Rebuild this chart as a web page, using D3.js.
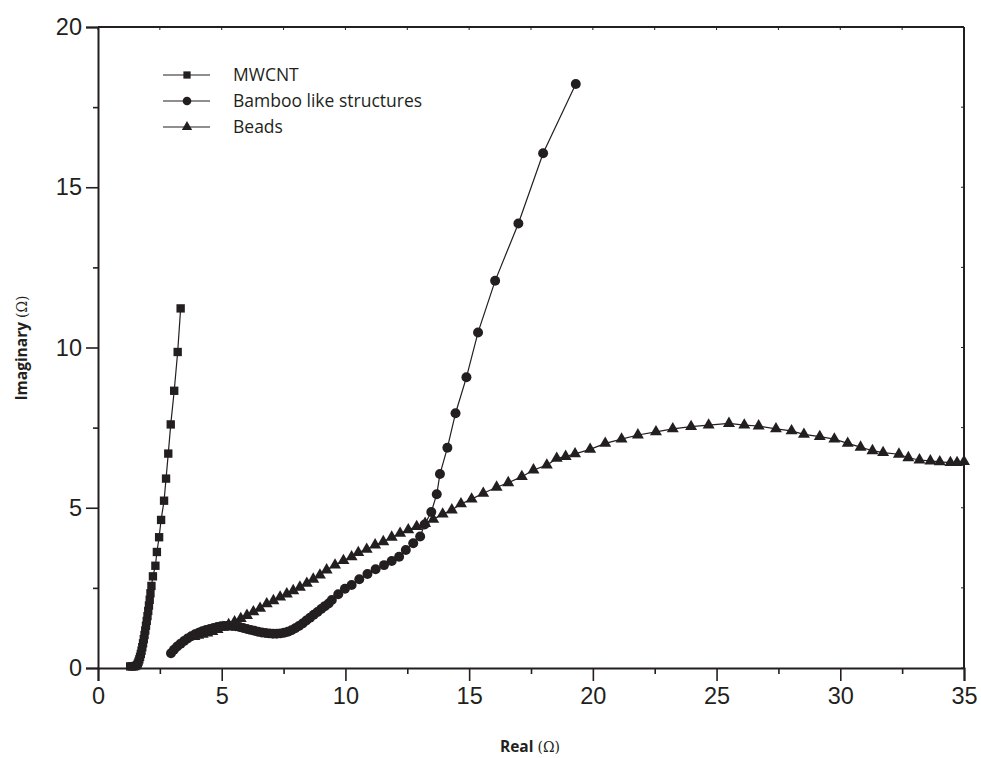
<!DOCTYPE html>
<html><head><meta charset="utf-8">
<script src="https://cdn.jsdelivr.net/npm/d3@7"></script>
<style>html,body{margin:0;padding:0;background:#fff;}svg{display:block;}</style>
</head><body>
<svg id="chart" width="981" height="758"></svg>
<script>
const xTicks = [0,5,10,15,20,25,30,35];
const yTicks = [0,5,10,15,20];
const seriesNames = ["MWCNT","Bamboo like structures","Beads"];

const mwcntX = [1.30,1.37,1.44,1.51,1.57,1.61,1.64,1.67,1.70,1.73,1.76,1.79,1.82,1.85,1.88,1.91,1.94,1.97,2.00,2.03,2.06,2.09,2.12,2.16,2.22,2.32,2.38,2.47,2.55,2.67,2.75,2.84,2.94,3.08,3.22,3.34];
const mwcntY = [0.05,0.05,0.05,0.06,0.09,0.14,0.20,0.27,0.35,0.44,0.54,0.65,0.77,0.90,1.03,1.17,1.32,1.47,1.62,1.78,1.95,2.13,2.33,2.56,2.86,3.19,3.62,4.08,4.62,5.22,5.91,6.69,7.60,8.65,9.86,11.22];

const bambooX = [2.95,3.07,3.20,3.34,3.48,3.62,3.77,3.92,4.07,4.22,4.37,4.52,4.67,4.82,4.97,5.12,5.27,5.42,5.57,5.72,5.87,6.02,6.17,6.32,6.47,6.62,6.77,6.92,7.07,7.22,7.37,7.52,7.67,7.82,7.97,8.12,8.27,8.42,8.57,8.72,8.87,9.02,9.17,9.32,9.45,9.71,9.98,10.25,10.56,10.89,11.22,11.56,11.87,12.17,12.44,12.74,13.02,13.20,13.47,13.69,13.82,14.12,14.45,14.89,15.36,16.05,16.99,17.99,19.31];
const bambooY = [0.46,0.57,0.67,0.76,0.84,0.92,0.99,1.05,1.10,1.15,1.19,1.22,1.25,1.28,1.30,1.31,1.32,1.31,1.30,1.28,1.25,1.22,1.19,1.16,1.13,1.11,1.09,1.08,1.07,1.07,1.08,1.10,1.13,1.18,1.24,1.31,1.39,1.48,1.57,1.66,1.75,1.84,1.93,2.01,2.12,2.30,2.47,2.59,2.77,2.93,3.08,3.21,3.34,3.47,3.68,3.89,4.10,4.48,4.87,5.42,6.05,6.87,7.95,9.07,10.47,12.08,13.87,16.06,18.22];

const beadsX = [3.90,4.05,4.23,4.42,4.62,4.83,5.05,5.28,5.52,5.77,6.02,6.28,6.55,6.82,7.09,7.36,7.63,7.89,8.16,8.44,8.70,8.97,9.24,9.58,9.92,10.25,10.52,10.86,11.20,11.53,11.87,12.21,12.54,12.88,13.22,13.55,13.93,14.30,14.67,15.10,15.57,16.11,16.58,17.13,17.60,18.14,18.54,18.90,19.28,19.89,20.50,21.16,21.82,22.55,23.23,23.97,24.68,25.50,26.12,26.70,27.40,28.03,28.53,29.17,29.76,30.30,30.82,31.30,31.73,32.37,32.75,33.20,33.64,34.02,34.45,34.72,35.00];
const beadsY = [0.98,1.02,1.05,1.09,1.14,1.20,1.27,1.35,1.44,1.54,1.64,1.75,1.86,2.00,2.10,2.21,2.31,2.41,2.52,2.64,2.77,2.90,3.06,3.21,3.35,3.47,3.60,3.70,3.84,3.94,4.08,4.20,4.31,4.41,4.51,4.64,4.80,4.93,5.12,5.27,5.45,5.64,5.78,5.97,6.18,6.33,6.54,6.60,6.68,6.82,7.01,7.14,7.27,7.37,7.46,7.53,7.58,7.63,7.58,7.55,7.46,7.40,7.29,7.22,7.14,7.01,6.89,6.78,6.72,6.67,6.56,6.49,6.46,6.43,6.41,6.41,6.44];

const ink = "#231f20";
const svg = d3.select("#chart");
const L = 98, R = 964, T = 27, B = 668;
const x = d3.scaleLinear().domain([0,35]).range([L,R]);
const y = d3.scaleLinear().domain([0,20]).range([B,T]);
const minorX = d3.range(2.5,35,5), minorY = d3.range(2.5,20,5);

const tickFont = "'Liberation Sans', Arial, sans-serif";
const g = svg.append("g");

// frame top/right
g.append("line").attr("x1",L).attr("x2",R).attr("y1",T).attr("y2",T).attr("stroke",ink).attr("stroke-width",2);
g.append("line").attr("x1",R).attr("x2",R).attr("y1",T).attr("y2",B).attr("stroke",ink).attr("stroke-width",2);
// tiny inner ticks on top/right
[...xTicks,...minorX].forEach(v=>{ g.append("line").attr("x1",x(v)).attr("x2",x(v)).attr("y1",T).attr("y2",T+3).attr("stroke",ink).attr("stroke-width",1); });
[...yTicks,...minorY].forEach(v=>{ g.append("line").attr("x1",R).attr("x2",R-3).attr("y1",y(v)).attr("y2",y(v)).attr("stroke",ink).attr("stroke-width",1); });

// bottom axis
g.append("g").attr("transform",`translate(0,${B})`)
  .call(d3.axisBottom(x).tickValues(xTicks).tickSize(13).tickPadding(6).tickFormat(d3.format("d")));
g.append("g").attr("transform",`translate(0,${B})`)
  .call(d3.axisBottom(x).tickValues(minorX).tickSize(6).tickFormat(""))
  .call(s=>s.select(".domain").remove());
// left axis
g.append("g").attr("transform",`translate(${L},0)`)
  .call(d3.axisLeft(y).tickValues(yTicks).tickSize(12).tickPadding(4).tickFormat(d3.format("d")));
g.append("g").attr("transform",`translate(${L},0)`)
  .call(d3.axisLeft(y).tickValues(minorY).tickSize(5).tickFormat(""))
  .call(s=>s.select(".domain").remove());

g.selectAll(".domain").attr("stroke",ink).attr("stroke-width",2);
g.selectAll(".tick line").attr("stroke",ink).attr("stroke-width",1.6);
g.selectAll(".tick text").attr("fill",ink).attr("font-family",tickFont).attr("font-size",23.5);

// axis titles
svg.append("text").attr("x",530).attr("y",752).attr("text-anchor","middle")
  .attr("font-family","'Open Sans', sans-serif").attr("font-size",15.5).attr("fill",ink)
  .html('<tspan font-weight="bold">Real</tspan> <tspan font-family="\'DejaVu Serif\', serif" font-size="14">(Ω)</tspan>');
svg.append("text").attr("transform","translate(27,348) rotate(-90)").attr("text-anchor","middle")
  .attr("font-family","'Open Sans', sans-serif").attr("font-size",15.5).attr("fill",ink)
  .html('<tspan font-weight="bold">Imaginary</tspan> <tspan font-family="\'DejaVu Serif\', serif" font-size="14">(Ω)</tspan>');

const line = d3.line().x(d=>x(d[0])).y(d=>y(d[1]));
const series = [
  {name:seriesNames[0], pts:d3.zip(mwcntX,mwcntY), sym:d3.symbolSquare, size:70},
  {name:seriesNames[1], pts:d3.zip(bambooX,bambooY), sym:d3.symbolCircle, size:78},
  {name:seriesNames[2], pts:d3.zip(beadsX,beadsY), sym:d3.symbolTriangle, size:62},
];
const plot = svg.append("g");
series.forEach(s=>{
  plot.append("path").datum(s.pts).attr("d",line).attr("fill","none").attr("stroke",ink).attr("stroke-width",1.2);
  plot.selectAll(null).data(s.pts).enter().append("path")
    .attr("d",d3.symbol().type(s.sym).size(s.size))
    .attr("transform",d=>`translate(${x(d[0])},${y(d[1])})`)
    .attr("fill",ink);
});

// legend
const leg = svg.append("g");
series.forEach((s,i)=>{
  const yy = 75 + i*26;
  leg.append("line").attr("x1",163).attr("x2",210).attr("y1",yy).attr("y2",yy).attr("stroke",ink).attr("stroke-width",1.2);
  leg.append("path").attr("d",d3.symbol().type(s.sym).size(s.size*0.75)).attr("transform",`translate(187,${yy})`).attr("fill",ink);
  leg.append("text").attr("x",233).attr("y",yy+6).attr("font-family","'Open Sans', sans-serif").attr("font-size",17.5).attr("fill",ink).text(s.name);
});
</script>
</body></html>
